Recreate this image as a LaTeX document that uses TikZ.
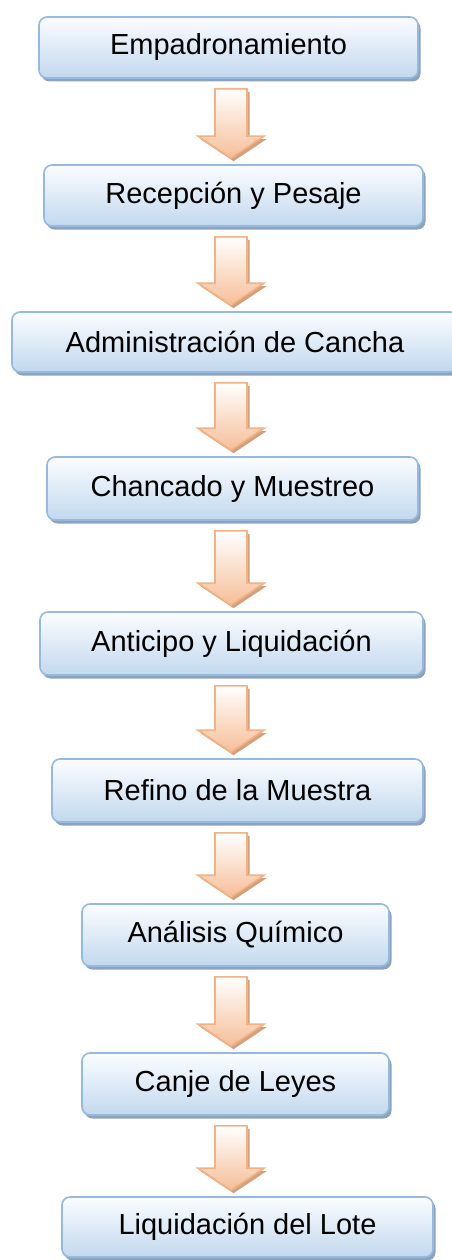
\documentclass[tikz,border=0pt]{standalone}
\usepackage{fontspec}
\setmainfont{Liberation Sans}
\usetikzlibrary{shadows,calc}
\definecolor{boxtop}{HTML}{FBFDFF}
\definecolor{boxbot}{HTML}{C2D8EE}
\definecolor{boxline}{HTML}{95B9E0}
\definecolor{boxshadow}{HTML}{8EA3BA}
\definecolor{arrline}{HTML}{F4B183}
\definecolor{arrbot}{HTML}{F6BE98}
\definecolor{arrshadow}{HTML}{D3A07E}
\tikzset{
  stepbox/.style={draw=boxline, line width=1.6pt, rounded corners=8pt,
    top color=boxtop, bottom color=boxbot, inner sep=0pt,
    font=\fontsize{29}{34}\selectfont, text=black,
    drop shadow={shadow xshift=2.5pt, shadow yshift=-3.5pt, fill=boxshadow, opacity=1}},
  blockarrow/.style={draw=arrline, line width=1.6pt, line join=miter,
    top color=white, bottom color=arrbot,
    drop shadow={shadow xshift=2.5pt, shadow yshift=-3pt, fill=arrshadow, opacity=1}}
}
\newcommand\flowarrow[2]{%
  \path[blockarrow] let \p1=(#1.south), \p2=(#2.north), \n1={\y1-10pt}, \n2={\y2+6pt}, \n3={\y2+28pt} in
    (215pt,\n1) -- (247pt,\n1) -- (247pt,\n3) -- (264pt,\n3) -- (231pt,\n2)
    -- (198pt,\n3) -- (215pt,\n3) -- cycle;}
\begin{document}
\begin{tikzpicture}[x=1pt,y=1pt]
\useasboundingbox (0,0) rectangle (451,-1260);
\node[stepbox, minimum width=379pt, minimum height=61pt] (n1) at (228.5,-47.5) {Empadronamiento};
\node[stepbox, minimum width=379pt, minimum height=61pt] (n2) at (233.5,-195.5) {Recepción y Pesaje};
\node[stepbox, minimum width=446pt, minimum height=60pt] (n3) at (235,-342) {Administración de Cancha};
\node[stepbox, minimum width=371pt, minimum height=63pt] (n4) at (232.5,-488.5) {Chancado y Muestreo};
\node[stepbox, minimum width=383pt, minimum height=63pt] (n5) at (231.5,-643.5) {Anticipo y Liquidación};
\node[stepbox, minimum width=371pt, minimum height=63pt] (n6) at (237.5,-790.5) {Refino de la Muestra};
\node[stepbox, minimum width=307pt, minimum height=62pt] (n7) at (235.5,-935) {Análisis Químico};
\node[stepbox, minimum width=307pt, minimum height=62pt] (n8) at (235.5,-1084) {Canje de Leyes};
\node[stepbox, minimum width=371pt, minimum height=60pt] (n9) at (247.5,-1227) {Liquidación del Lote};
\flowarrow{n1}{n2}
\flowarrow{n2}{n3}
\flowarrow{n3}{n4}
\flowarrow{n4}{n5}
\flowarrow{n5}{n6}
\flowarrow{n6}{n7}
\flowarrow{n7}{n8}
\flowarrow{n8}{n9}
\end{tikzpicture}
\end{document}
